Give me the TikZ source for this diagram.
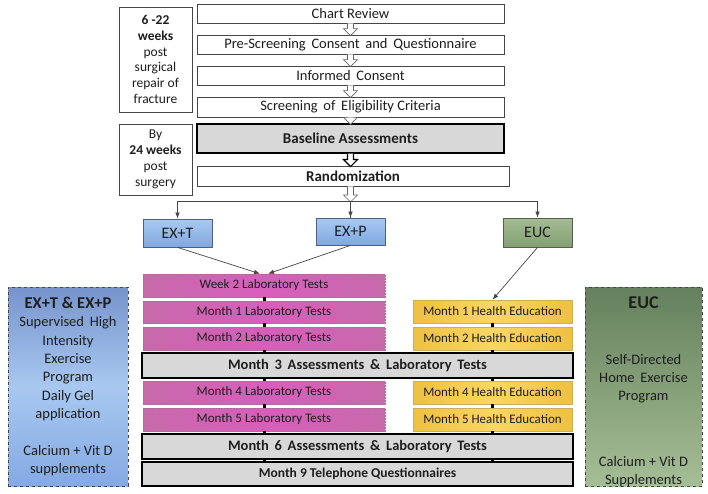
\documentclass[tikz,border=0pt]{standalone}
\usepackage{fontspec}
\setmainfont{Carlito}
\usetikzlibrary{calc,arrows.meta}
\definecolor{txt}{RGB}{30,30,30}
\definecolor{lineg}{RGB}{70,70,70}
\definecolor{pinkedge}{RGB}{198,106,170}
\definecolor{pinkmid}{RGB}{216,94,188}
\definecolor{pinkline}{RGB}{170,110,150}
\definecolor{yeledge}{RGB}{238,192,66}
\definecolor{yelmid}{RGB}{250,214,100}
\definecolor{yelline}{RGB}{205,175,90}
\definecolor{bluetop}{RGB}{168,202,242}
\definecolor{bluebot}{RGB}{128,168,224}
\definecolor{blueline}{RGB}{80,95,130}
\definecolor{greentop}{RGB}{165,188,148}
\definecolor{greenbot}{RGB}{130,160,115}
\definecolor{greenline}{RGB}{85,95,80}
\definecolor{bigbluetop}{RGB}{118,148,204}
\definecolor{bigbluemid}{RGB}{168,200,240}
\definecolor{bigbluebot}{RGB}{132,170,228}
\definecolor{biggreentop}{RGB}{100,128,92}
\definecolor{biggreenbot}{RGB}{166,190,150}
\definecolor{grayfill}{RGB}{216,216,216}
\newcommand{\harrow}[3][]{%
  \draw[harrowst,#1] ($(#2)+(-3,0)$) -- ($(#2 |- #3)+(-3,-6)$) -- ($(#2 |- #3)+(-7,-6)$)
    -- ($(#2 |- #3)+(0,1)$) -- ($(#2 |- #3)+(7,-6)$) -- ($(#2 |- #3)+(3,-6)$) -- ($(#2)+(3,0)$);}
\begin{document}
\begin{tikzpicture}[x=1pt,y=-1pt,
  every node/.style={inner sep=0pt, text=txt},
  topbox/.style={draw=lineg, line width=0.8pt, fill=white, minimum width=307pt, minimum height=19pt,
     font=\fontsize{14.5}{16}\selectfont},
  graybox/.style={draw=black, line width=1.3pt, fill=grayfill, minimum width=431pt, minimum height=25pt,
     font=\fontsize{14.5}{16}\selectfont\bfseries},
  labbox/.style={draw=lineg, line width=0.8pt, fill=white, minimum width=73pt, align=center,
     font=\fontsize{13.5}{15.8}\selectfont},
  pinkbox/.style={draw=pinkline, densely dotted, line width=0.5pt, left color=pinkedge, right color=pinkedge,
     middle color=pinkmid, minimum width=242pt, minimum height=23pt, font=\fontsize{13}{15}\selectfont},
  yelbox/.style={draw=yelline, line width=0.5pt, left color=yeledge, right color=yeledge,
     middle color=yelmid, minimum width=159pt, minimum height=23pt, font=\fontsize{13}{15}\selectfont},
  armbox/.style={line width=0.8pt, minimum width=69pt, minimum height=28pt, font=\fontsize{16}{18}\selectfont},
  bigbox/.style={draw=lineg, dashed, line width=0.8pt, minimum height=199pt},
  harrowst/.style={draw=gray!80!black, line width=0.6pt, fill=white},
  arr/.style={draw=lineg, line width=0.7pt, -{Latex[length=6pt,width=4.5pt]}},
  conn/.style={draw=black, line width=3pt}]
\useasboundingbox (0,0) rectangle (708,494);
\fill[white] (0,0) rectangle (708,494);

% left time labels
\node[labbox, minimum height=105pt] (lb1) at (155.5,59.5)
  {\textbf{6 -22}\\\textbf{weeks}\\post\\surgical\\repair of\\fracture};
\node[labbox, minimum height=71pt] (lb2) at (155.5,159.5)
  {By\\\textbf{24 weeks}\\post\\surgery};

% top flow
\node[topbox] (cr) at (350.5,13.5) {Chart Review};
\node[topbox] (ps) at (350.5,44.5) {Pre-Screening\, Consent\, and\, Questionnaire};
\node[topbox] (ic) at (350.5,75.5) {Informed\, Consent};
\node[topbox, minimum height=20pt] (sc) at (350.5,107) {Screening\, of\, Eligibility Criteria};
\node[topbox, draw=black, line width=1.2pt, fill=grayfill, minimum height=29pt, font=\fontsize{15}{17}\selectfont\bfseries]
  (ba) at (350.5,138.5) {Baseline Assessments};
\node[topbox, minimum width=312pt, minimum height=20pt, font=\fontsize{15}{17}\selectfont\bfseries]
  (ra) at (353,176) {Randomization};

\harrow{cr.south}{ps.north}
\harrow{ps.south}{ic.north}
\harrow{ic.south}{sc.north}
\harrow{sc.south}{ba.north}
\harrow[draw=black, line width=1.2pt]{ba.south}{ra.north}

% arms
\node[armbox, draw=blueline, top color=bluetop, bottom color=bluebot] (ext) at (177.5,233) {EX+T};
\node[armbox, draw=blueline, top color=bluetop, bottom color=bluebot, minimum height=27pt] (exp) at (350.5,231.5) {EX+P};
\node[armbox, draw=greenline, top color=greentop, bottom color=greenbot, minimum height=29pt] (euc) at (537.5,232.5) {EUC};

\coordinate (split) at (350.5,201);
\coordinate (rabot) at (ra.south -| split);
\draw[lineg, line width=0.7pt] (split) -- (exp.north);
\harrow{rabot}{split}
\draw[arr] (split) -| (ext.north);
\draw[arr] (split) -- (exp.north);
\draw[arr] (split) -| (euc.north);

% pink column
\node[pinkbox] (w2) at (264,285.5) {Week 2 Laboratory Tests};
\node[pinkbox, minimum height=22pt] (m1) at (264,312) {Month 1 Laboratory Tests};
\node[pinkbox] (m2) at (264,338.5) {Month 2 Laboratory Tests};
\node[pinkbox] (m4) at (264,392.5) {Month 4 Laboratory Tests};
\node[pinkbox] (m5) at (264,419.5) {Month 5 Laboratory Tests};

% yellow column
\node[yelbox] (h1) at (492.5,311.5) {Month 1 Health Education};
\node[yelbox] (h2) at (492.5,338.5) {Month 2 Health Education};
\node[yelbox] (h4) at (492.5,392.5) {Month 4 Health Education};
\node[yelbox] (h5) at (492.5,419.5) {Month 5 Health Education};

% gray rows
\node[graybox] (m3) at (357.5,365.5) {Month\, 3\, Assessments\, \&\, Laboratory\, Tests};
\node[graybox] (m6) at (357.5,446.5) {Month\, 6\, Assessments\, \&\, Laboratory\, Tests};
\node[graybox, minimum height=24pt, font=\fontsize{13.5}{15}\selectfont\bfseries] (m9) at (357.5,474) {Month 9 Telephone Questionnaires};

% arrows into columns
\draw[arr] (ext.south) -- ($(w2.north)+(-4,0)$);
\draw[arr] (exp.south) -- ($(w2.north)+(4,0)$);
\draw[arr] (euc.south) -- (h1.north);

% connectors
\draw[conn] (w2.south) -- (m1.north);
\draw[conn] (m1.south) -- (m2.north);
\draw[conn] (m2.south) -- (m2.south |- m3.north);
\draw[conn] (m2.south |- m3.south) -- (m4.north);
\draw[conn] (m4.south) -- (m5.north);
\draw[conn] (m5.south) -- (m5.south |- m6.north);
\draw[conn] (m5.south |- m6.south) -- (m5.south |- m9.north);
\draw[conn] (h1.south) -- (h2.north);
\draw[conn] (h2.south) -- (h2.south |- m3.north);
\draw[conn] (h2.south |- m3.south) -- (h4.north);
\draw[conn] (h4.south) -- (h5.north);
\draw[conn] (h5.south) -- (h5.south |- m6.north);
\draw[conn] (h5.south |- m6.south) -- (h5.south |- m9.north);

% side summary boxes
\node[bigbox, minimum width=120pt, shading=axis, top color=bigbluetop, bottom color=bigbluebot, middle color=bigbluemid] (lsum) at (68,386.5) {};
\node[align=center, font=\fontsize{14.5}{18.3}\selectfont] (ltxt) at (lsum.center)
  {{\fontsize{16.5}{18.3}\selectfont\bfseries EX+T \& EX+P}\\Supervised\, High\\Intensity\\Exercise\\Program\\Daily Gel\\application\\[18.3pt]Calcium + Vit D\\supplements};

\node[bigbox, minimum width=117pt, top color=biggreentop, bottom color=biggreenbot] (rsum) at (643.5,386.5) {};
\node[font=\fontsize{18}{20}\selectfont\bfseries] (rt1) at (643.5,303) {EUC};
\node[align=center, font=\fontsize{14.5}{18}\selectfont] (rt2) at (643.5,379) {Self-Directed\\Home\, Exercise\\Program};
\node[align=center, font=\fontsize{14.5}{18}\selectfont] (rt3) at (643.5,472) {Calcium + Vit D\\Supplements};
\end{tikzpicture}
\end{document}
